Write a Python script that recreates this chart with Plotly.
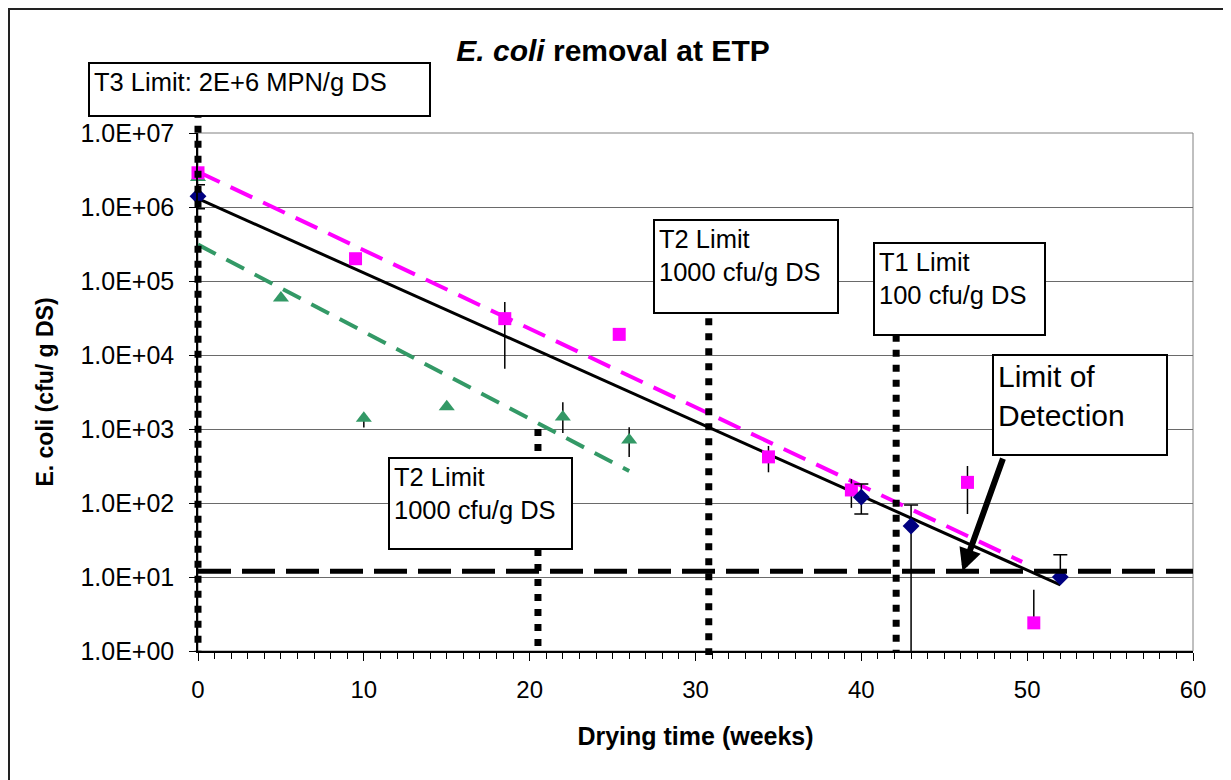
import numpy as np
import plotly.graph_objects as go

# ---------------- data ----------------
weeks_blue = [0, 40, 43, 52]
ecoli_blue = [1.4e6, 120, 49, 10]
blue_err_plus = [6.0e5, 61, 45, 10]
blue_err_minus = [4.5e5, 49, 48.5, 0]

weeks_pink = [0, 9.5, 18.5, 25.4, 34.4, 39.4, 46.4, 50.4]
ecoli_pink = [2.9e6, 2.0e5, 3.1e4, 1.9e4, 420, 150, 190, 2.4]
pink_err_plus = [0, 0, 2.1e4, 0, 170, 60, 126, 4.3]
pink_err_minus = [0, 0, 2.45e4, 0, 160, 64, 119, 0]

weeks_green = [0, 5, 10, 15, 22, 26]
ecoli_green = [2.5e6, 5.9e4, 1400, 2000, 1450, 710]
green_err_plus = [0, 0, 0, 0, 850, 350]
green_err_minus = [0, 0, 350, 0, 570, 290]

trend_blue_x = [0, 52]
trend_blue_y = [1.3e6, 7.8]
trend_pink_x = [0, 49.7]
trend_pink_y = [3.0e6, 16]
trend_green_x = [0, 26]
trend_green_y = [3.1e5, 270]

limit_weeks = [0, 20.5, 30.8, 42.1]
limit_top = [2.0e7, 1000, 5e4, 3e4]
limit_bottom = [1, 1, 0.88, 1]

lod_value = 12
lod_weeks = [0, 60]
lod_arrow_week = 46.1

x_tickvals = [0, 10, 20, 30, 40, 50, 60]
y_tickvals = [1, 10, 100, 1e3, 1e4, 1e5, 1e6, 1e7]
y_ticktext = ["1.0E+00", "1.0E+01", "1.0E+02", "1.0E+03",
              "1.0E+04", "1.0E+05", "1.0E+06", "1.0E+07"]

title_text = "<b><i>E. coli</i> removal at ETP</b>"
x_title = "Drying time (weeks)"
y_title = "E. coli (cfu/ g DS)"
t3_text = "T3 Limit: 2E+6 MPN/g DS"
t2_text = "T2 Limit<br>1000 cfu/g DS"
t1_text = "T1 Limit<br>100 cfu/g DS"
lod_text = "Limit of<br>Detection"

# ---------------- layout geometry ----------------
# target positions are page pixels; the figure sits 8 px into the page
W, H = 1231, 780
OFF = 8
PW, PH = W, H
PL, PR, PT, PB = 198, 1193, 133, 651   # plot area (page px)

def px_x(px):
    return (px - OFF) / PW

def px_y(py):
    return (H - (py - OFF)) / PH

xd = [px_x(PL), px_x(PR)]
yd = [px_y(PB), px_y(PT)]
xr = [0, 60]
yr = [0, 7]
xspan = (xr[1] - xr[0]) / (xd[1] - xd[0])
yspan = (yr[1] - yr[0]) / (yd[1] - yd[0])
x2r = [xr[0] - xd[0] * xspan, xr[1] + (1 - xd[1]) * xspan]
y2r = [yr[0] - yd[0] * yspan, yr[1] + (1 - yd[1]) * yspan]

FONT = "Liberation Sans, Arial, sans-serif"

fig = go.Figure()

# trend lines
fig.add_trace(go.Scatter(x=trend_green_x, y=trend_green_y, mode="lines",
                         line=dict(color="#339966", width=4, dash="20px,12px"),
                         showlegend=False, hoverinfo="skip"))
fig.add_trace(go.Scatter(x=trend_pink_x, y=trend_pink_y, mode="lines",
                         line=dict(color="#FF00FF", width=4, dash="24px,12px"),
                         showlegend=False, hoverinfo="skip"))
fig.add_trace(go.Scatter(x=trend_blue_x, y=trend_blue_y, mode="lines",
                         line=dict(color="black", width=3),
                         showlegend=False, hoverinfo="skip"))

# data points
fig.add_trace(go.Scatter(
    x=weeks_green, y=ecoli_green, mode="markers", cliponaxis=False,
    marker=dict(symbol="triangle-up", size=14, color="#339966"),
    error_y=dict(type="data", array=green_err_plus, arrayminus=green_err_minus,
                 color="black", thickness=1.5, width=0),
    showlegend=False))
fig.add_trace(go.Scatter(
    x=weeks_pink, y=ecoli_pink, mode="markers", cliponaxis=False,
    marker=dict(symbol="square", size=13, color="#FF00FF"),
    error_y=dict(type="data", array=pink_err_plus, arrayminus=pink_err_minus,
                 color="black", thickness=1.5, width=0),
    showlegend=False))
fig.add_trace(go.Scatter(
    x=weeks_blue, y=ecoli_blue, mode="markers", cliponaxis=False,
    marker=dict(symbol="diamond", size=13, color="#000080"),
    error_y=dict(type="data", array=blue_err_plus, arrayminus=blue_err_minus,
                 color="black", thickness=1.5, width=7),
    showlegend=False))

# limit lines on an unclipped overlay subplot with the same scale
lx, ly = [], []
for w, top, bot in zip(limit_weeks, limit_top, limit_bottom):
    lx += [w, w, None]
    ly += [top, bot, None]
fig.add_trace(go.Scatter(x=lx, y=ly, mode="lines", xaxis="x2", yaxis="y2",
                         line=dict(color="black", width=7, dash="7px,8px"),
                         showlegend=False, hoverinfo="skip"))
fig.add_trace(go.Scatter(x=lod_weeks, y=[lod_value] * len(lod_weeks), mode="lines",
                         xaxis="x2", yaxis="y2",
                         line=dict(color="black", width=5, dash="33px,11px"),
                         showlegend=False, hoverinfo="skip"))

def box(text, left, top, right, bottom, size):
    bw, pad = 2, 4
    return dict(xref="paper", yref="paper", x=px_x(left), y=px_y(top),
                xanchor="left", yanchor="top", text=text, showarrow=False,
                align="left", valign="top",
                width=right - left - 2 * (bw + pad),
                height=bottom - top - 2 * (bw + pad),
                bordercolor="black", borderwidth=bw, borderpad=pad,
                bgcolor="white", font=dict(family=FONT, size=size, color="black"))

annotations = [
    dict(xref="x", yref="y", x=lod_arrow_week, y=np.log10(lod_value),
         ax=41, ay=-114, text="", showarrow=True, arrowhead=2,
         arrowsize=0.75, arrowwidth=6, arrowcolor="black"),
    box(t3_text, 88, 62, 431, 117, 25.5),
    box(t2_text + "<br> ", 653, 219, 839, 314, 25.5),
    box(t1_text + "<br> ", 873, 242, 1046, 336, 25.5),
    box(t2_text + "<br> ", 388, 457, 573, 550, 25.5),
    box(lod_text, 992, 354, 1168, 456, 30),
]

shapes = [
    dict(type="rect", xref="x domain", yref="y domain", x0=0, x1=1, y0=0, y1=1,
         line=dict(color="#808080", width=1), layer="below"),
    dict(type="line", xref="paper", yref="paper", x0=0, x1=0, y0=1, y1=0,
         line=dict(color="#222", width=4)),
    dict(type="line", xref="paper", yref="paper", x0=0, x1=1, y0=1, y1=1,
         line=dict(color="#222", width=4)),
]

fig.update_layout(
    width=W, height=H,
    margin=dict(l=0, r=0, t=0, b=0, pad=0, autoexpand=False),
    paper_bgcolor="white", plot_bgcolor="rgba(0,0,0,0)",
    font=dict(family=FONT, color="black"),
    title=dict(text=title_text, x=px_x(613), xref="paper", xanchor="center",
               y=px_y(50), yref="container", yanchor="middle",
               font=dict(family=FONT, size=30, color="black")),
    xaxis=dict(domain=xd, range=xr, anchor="y", tickvals=x_tickvals,
               ticks="outside", ticklen=8, tickwidth=1, tickcolor="black",
               minor=dict(dtick=1, ticks="outside", ticklen=6, tickcolor="black",
                          showgrid=False),
               showline=True, linecolor="black", linewidth=1.5,
               showgrid=False, zeroline=False, automargin=False,
               tickfont=dict(family=FONT, size=24), ticklabelstandoff=8,
               title=dict(text="<b>" + x_title + "</b>", standoff=26,
                          font=dict(family=FONT, size=25))),
    yaxis=dict(domain=yd, type="log", range=yr, anchor="x",
               tickvals=y_tickvals, ticktext=y_ticktext,
               ticks="outside", ticklen=7, tickwidth=1, tickcolor="black",
               showline=True, linecolor="black", linewidth=1.5,
               showgrid=True, gridcolor="#6a6a6a", gridwidth=1, zeroline=False,
               automargin=False,
               tickfont=dict(family=FONT, size=25), ticklabelstandoff=10,
               title=dict(text="<b>" + y_title + "</b>", standoff=20,
                          font=dict(family=FONT, size=23))),
    xaxis2=dict(domain=[0, 1], range=x2r, anchor="y2", visible=False,
                automargin=False),
    yaxis2=dict(domain=[0, 1], type="log", range=y2r, anchor="x2", visible=False,
                automargin=False),
    annotations=annotations,
    shapes=shapes,
    showlegend=False,
)

fig.write_html("out.html")
